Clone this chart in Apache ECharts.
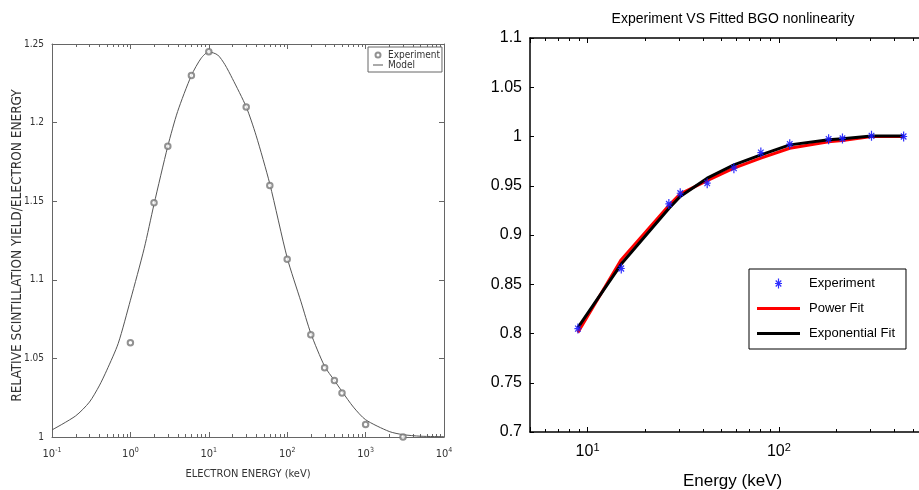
<!DOCTYPE html>
<html><head><meta charset="utf-8">
<script src="https://cdn.jsdelivr.net/npm/echarts@6/dist/echarts.min.js"></script>
<style>
html,body{margin:0;padding:0;background:#fff;}
#c1{position:absolute;left:0;top:0;width:460px;height:490px;}
#c2{position:absolute;left:460px;top:0;width:459px;height:490px;}
</style>
</head><body>
<div id="c1"></div><div id="c2"></div>
<script>
// ---------- Left chart data ----------
const leftExpEnergy = [1, 2, 3, 6, 10, 30, 60, 100, 200, 300, 400, 500, 1000, 3000];
const leftExpValue  = [1.060, 1.149, 1.185, 1.230, 1.245, 1.210, 1.160, 1.113, 1.065, 1.044, 1.036, 1.028, 1.008, 1.000];
const leftModelEnergy = [0.1, 0.2, 0.3, 0.4, 0.5, 0.7, 1, 1.5, 2, 3, 4, 6, 8, 10, 13, 16, 20, 30, 40, 60, 100, 150, 200, 300, 400, 500, 700, 1000, 2000, 3000, 5000, 10000];
const leftModelValue  = [1.0045, 1.0134, 1.0222, 1.0325, 1.0425, 1.0596, 1.087, 1.120, 1.148, 1.185, 1.207, 1.230, 1.241, 1.245, 1.243, 1.237, 1.228, 1.210, 1.192, 1.161, 1.114, 1.086, 1.066, 1.045, 1.036, 1.029, 1.019, 1.011, 1.0035, 1.0015, 1.0005, 1.0002];
const leftMinorTicks = [0.2,0.3,0.4,0.5,0.6,0.7,0.8,0.9, 2,3,4,5,6,7,8,9, 20,30,40,50,60,70,80,90, 200,300,400,500,600,700,800,900, 2000,3000,4000,5000,6000,7000,8000,9000];
const leftTitleX = 'ELECTRON ENERGY (keV)';
const leftTitleY = 'RELATIVE SCINTILLATION YIELD/ELECTRON ENERGY';

// ---------- Right chart data ----------
const rightEnergy   = [8.9, 15, 26.6, 30.5, 42.2, 58.2, 80.5, 114, 182, 215, 305, 449];
const rightExp      = [0.805, 0.866, 0.9315, 0.9424, 0.9526, 0.9678, 0.9837, 0.9922, 0.9973, 0.998, 1.0007, 1.0];
const rightPowerFit = [0.801, 0.875, 0.930, 0.9417, 0.9552, 0.9678, 0.978, 0.9881, 0.9946, 0.9959, 1.0, 1.0];
const rightExpoFit  = [0.806, 0.8705, 0.927, 0.939, 0.9577, 0.9712, 0.9813, 0.9915, 0.9966, 0.9976, 1.0005, 1.0005];
const rightMinorTicks = [6,7,8,9, 20,30,40,50,60,70,80,90, 200,300,400,500,600];
const rightTitle = 'Experiment VS Fitted BGO nonlinearity';
const rightTitleX = 'Energy (keV)';

const narrowFont = '"Liberation Sans Narrow", "DejaVu Sans Condensed", "Liberation Sans", Arial, sans-serif';
const sansFont = '"Liberation Sans", Arial, Helvetica, sans-serif';

function zip(a, b) { return a.map((v, i) => [v, b[i]]); }

function minorTickSeries(values, yMin, yMax, len, color) {
  return {
    type: 'custom', silent: true, clip: false, z: 1,
    xAxisIndex: 0, yAxisIndex: 0,
    data: values.map(v => [v, yMin]),
    encode: { x: 0, y: 1 },
    renderItem: function (params, api) {
      const b = api.coord([api.value(0), yMin]);
      const t = api.coord([api.value(0), yMax]);
      const x = Math.round(b[0]) + 0.5;
      return { type: 'group', children: [
        { type: 'line', shape: { x1: x, y1: b[1], x2: x, y2: b[1] - len }, style: { stroke: color, lineWidth: 1 } },
        { type: 'line', shape: { x1: x, y1: t[1], x2: x, y2: t[1] + len }, style: { stroke: color, lineWidth: 1 } }
      ]};
    }
  };
}

function expLabel(v) {
  const e = Math.round(Math.log10(v));
  if (Math.abs(Math.log10(v) - e) > 1e-6) return '';
  return '{b|10}{s|' + e + '}';
}

// ---------- Left chart ----------
const c1 = echarts.init(document.getElementById('c1'), null, { renderer: 'canvas' });
const gray = '#666';
const txt = '#333';
c1.setOption({
  animation: false,
  backgroundColor: '#fff',
  grid: { left: 52, top: 44, right: 16, bottom: 53, outerBoundsMode: 'none', containLabel: false },
  legend: {
    left: 368, top: 47, orient: 'vertical',
    padding: [3, 2, 2, 5], itemGap: 0, itemWidth: 10, itemHeight: 5,
    borderColor: gray, borderWidth: 1, backgroundColor: '#fff',
    textStyle: { fontFamily: narrowFont, fontSize: 10, color: txt },
    data: [
      { name: 'Experiment', icon: 'emptyCircle' },
      { name: 'Model', icon: 'path://M0,0L10,0L10,1L0,1Z' }
    ],
    selectedMode: false
  },
  xAxis: [{
    type: 'log', logBase: 10, min: 0.1, max: 10000, position: 'bottom',
    name: leftTitleX, nameLocation: 'middle', nameGap: 32, nameMoveOverlap: false,
    nameTextStyle: { fontFamily: narrowFont, fontSize: 11, color: txt },
    axisLine: { lineStyle: { color: gray, width: 1 } },
    axisTick: { inside: true, length: 5, lineStyle: { color: gray } },
    splitLine: { show: false }, minorTick: { show: false },
    axisLabel: {
      margin: 10, showMinLabel: true, showMaxLabel: true,
      formatter: expLabel,
      rich: {
        b: { fontFamily: narrowFont, fontSize: 11, color: txt },
        s: { fontFamily: narrowFont, fontSize: 7, color: txt, padding: [0, 0, 7, 0] }
      }
    }
  }, {
    type: 'log', logBase: 10, min: 0.1, max: 10000, position: 'top',
    axisLine: { lineStyle: { color: gray, width: 1 } },
    axisTick: { inside: true, length: 5, lineStyle: { color: gray } },
    axisLabel: { show: false }, splitLine: { show: false }
  }],
  yAxis: [{
    type: 'value', min: 1, max: 1.25, interval: 0.05, position: 'left',
    name: leftTitleY, nameLocation: 'middle', nameGap: 28, nameMoveOverlap: false,
    nameTextStyle: { fontFamily: narrowFont, fontSize: 13.5, color: txt, padding: [0, 10, 0, 0] },
    axisLine: { show: true, lineStyle: { color: gray, width: 1 } },
    axisTick: { show: true, inside: true, length: 5, lineStyle: { color: gray } },
    splitLine: { show: false },
    axisLabel: { fontFamily: narrowFont, fontSize: 10, color: txt, margin: 8 }
  }, {
    type: 'value', min: 1, max: 1.25, interval: 0.05, position: 'right',
    axisLine: { show: true, lineStyle: { color: gray, width: 1 } },
    axisTick: { show: true, inside: true, length: 5, lineStyle: { color: gray } },
    splitLine: { show: false }, axisLabel: { show: false }
  }],
  series: [
    minorTickSeries(leftMinorTicks, 1, 1.25, 3, gray),
    {
      name: 'Model', type: 'line', xAxisIndex: 0, yAxisIndex: 0,
      data: zip(leftModelEnergy, leftModelValue),
      symbol: 'none', smooth: 0.25,
      lineStyle: { color: '#555', width: 1 }, itemStyle: { color: '#555' }, z: 2
    },
    {
      name: 'Experiment', type: 'scatter', xAxisIndex: 0, yAxisIndex: 0,
      data: zip(leftExpEnergy, leftExpValue),
      symbol: 'emptyCircle', symbolSize: 5.5,
      itemStyle: { color: '#777', borderColor: '#777', borderWidth: 1 }, z: 3
    }
  ]
});

// ---------- Right chart ----------
const starPath = 'path://M5.8,0L8.2,0L8.2,20L5.8,20Z M0,8.8L14,8.8L14,11.2L0,11.2Z M2.384,3.189L13.384,15.189L11.616,16.811L0.616,4.811Z M13.384,4.811L2.384,16.811L0.616,15.189L11.616,3.189Z';
const linePath = 'path://M0,0L43,0L43,3L0,3Z';
const c2 = echarts.init(document.getElementById('c2'), null, { renderer: 'canvas' });
c2.setOption({
  animation: false,
  backgroundColor: '#fff',
  title: {
    text: rightTitle, left: 268, top: 7, textAlign: 'center',
    textStyle: { fontFamily: sansFont, fontSize: 14, fontWeight: 'normal', color: '#000' }
  },
  grid: { left: 70, top: 38, right: -16, bottom: 58, outerBoundsMode: 'none', containLabel: false },
  legend: {
    left: 289, top: 269, orient: 'vertical',
    padding: [8, 11, 9, 8], itemGap: 12, itemWidth: 43, itemHeight: 10,
    borderColor: '#000', borderWidth: 1, backgroundColor: '#fff',
    textStyle: { fontFamily: sansFont, fontSize: 13, color: '#000', padding: [0, 0, 0, 4] },
    data: [
      { name: 'Experiment' },
      { name: 'Power Fit', icon: linePath },
      { name: 'Exponential Fit', icon: linePath }
    ],
    selectedMode: false
  },
  xAxis: [{
    type: 'log', logBase: 10, min: 5, max: 655, position: 'bottom',
    name: rightTitleX, nameLocation: 'middle', nameGap: 41, nameMoveOverlap: false,
    nameTextStyle: { fontFamily: sansFont, fontSize: 17, color: '#000' },
    axisLine: { lineStyle: { color: '#000', width: 1.5 } },
    axisTick: { inside: true, length: 5, lineStyle: { color: '#000' } },
    splitLine: { show: false },
    axisLabel: {
      margin: 10, showMinLabel: true, showMaxLabel: true,
      formatter: expLabel,
      rich: {
        b: { fontFamily: sansFont, fontSize: 16, color: '#000' },
        s: { fontFamily: sansFont, fontSize: 11, color: '#000', padding: [0, 0, 9, 0] }
      }
    }
  }, {
    type: 'log', logBase: 10, min: 5, max: 655, position: 'top',
    axisLine: { lineStyle: { color: '#000', width: 1.5 } },
    axisTick: { inside: true, length: 5, lineStyle: { color: '#000' } },
    axisLabel: { show: false }, splitLine: { show: false }
  }],
  yAxis: [{
    type: 'value', min: 0.7, max: 1.1, interval: 0.05, position: 'left',
    axisLine: { show: true, lineStyle: { color: '#000', width: 1.5 } },
    axisTick: { show: true, inside: true, length: 4, lineStyle: { color: '#000' } },
    splitLine: { show: false },
    axisLabel: { fontFamily: sansFont, fontSize: 16, color: '#000', margin: 8 }
  }],
  series: [
    minorTickSeries(rightMinorTicks, 0.7, 1.1, 3, '#000'),
    {
      name: 'Power Fit', type: 'line', data: zip(rightEnergy, rightPowerFit),
      symbol: 'none', lineStyle: { color: '#ff0000', width: 3 }, itemStyle: { color: '#ff0000' }, z: 2
    },
    {
      name: 'Exponential Fit', type: 'line', data: zip(rightEnergy, rightExpoFit),
      symbol: 'none', lineStyle: { color: '#000', width: 3 }, itemStyle: { color: '#000' }, z: 3
    },
    {
      name: 'Experiment', type: 'scatter', data: zip(rightEnergy, rightExp),
      symbol: starPath, symbolSize: [7, 10],
      itemStyle: { color: '#1a1aff', opacity: 0.9 }, z: 4
    }
  ]
});
</script>
</body></html>
